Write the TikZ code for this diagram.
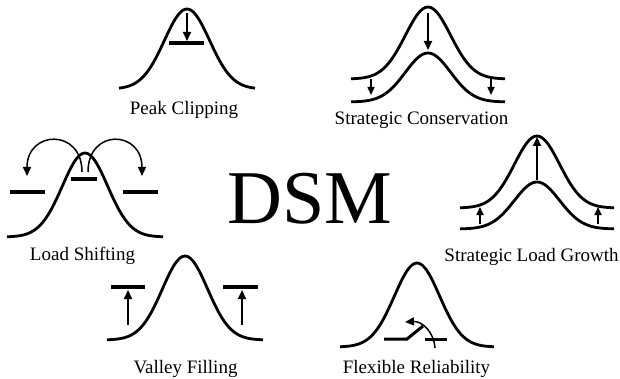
\documentclass[tikz,border=0pt]{standalone}
\usepackage{fontspec}
\setmainfont{Liberation Serif}
\usetikzlibrary{arrows.meta}
\tikzset{
  loadcurve/.style={line width=2.8pt},
  barline/.style={line width=4pt},
  pusharrow/.style={line width=2pt, -{Triangle[length=9pt,width=8pt]}},
  smallpush/.style={line width=1.6pt, -{Triangle[length=8pt,width=7pt]}},
  swaparrow/.style={line width=1.5pt, -{Triangle[length=9pt,width=8pt]}},
  dsmlabel/.style={anchor=base, inner sep=0pt, font=\fontsize{19}{22}\selectfont},
}
% bell shaped load curve: centre x, end y, peak y, half width, spread
\newcommand{\bellcurve}[5]{%
  \draw[loadcurve] plot[domain=-#4:#4, samples=61, smooth]
    ({#1+\x}, {#2+(#3-#2)*exp(-(\x/#5)*(\x/#5))});
}
\begin{document}
\begin{tikzpicture}[x=1pt, y=-1pt]
  \useasboundingbox (0,0) rectangle (620,379);
  % Peak clipping
  \bellcurve{187}{89}{9}{68}{32}
  \draw[barline] (169,43) -- (204,43);
  \draw[pusharrow] (187,13) -- (187,41);
  \node[dsmlabel] (peak) at (184,115) {Peak Clipping};
  % Strategic conservation
  \bellcurve{428}{79}{7}{77}{32}
  \bellcurve{428}{102}{53}{77}{32}
  \draw[pusharrow] (428,13) -- (428,50);
  \foreach \px in {371,491}
    \draw[smallpush] (\px,79) -- (\px,95);
  \node[dsmlabel] (cons) at (421.5,125) {Strategic Conservation};
  % Load shifting
  \bellcurve{85}{237}{153}{78}{32}
  \draw[barline] (10,192) -- (45,192);
  \draw[barline] (71,179) -- (97,179);
  \draw[barline] (123,192) -- (158,192);
  \draw[swaparrow] (82,172) .. controls (82,128) and (27,130) .. (27,176);
  \draw[swaparrow] (88,172) .. controls (88,128) and (142,130) .. (142,176);
  \node[dsmlabel] (shift) at (82.5,260) {Load Shifting};
  % Strategic load growth
  \bellcurve{537}{208}{136}{77}{32}
  \bellcurve{537}{229}{182}{77}{32}
  \draw[pusharrow] (537,180) -- (537,137);
  \foreach \px in {480,598}
    \draw[smallpush] (\px,224) -- (\px,207);
  \node[dsmlabel] (growth) at (531.5,261) {Strategic Load Growth};
  % Valley filling
  \bellcurve{185}{340}{256}{78}{32}
  \draw[barline] (111,287) -- (145,287);
  \draw[barline] (223,287) -- (258,287);
  \foreach \px in {128,242}
    \draw[pusharrow] (\px,325) -- (\px,290);
  \node[dsmlabel] (valley) at (185.5,373) {Valley Filling};
  % Flexible reliability
  \bellcurve{417}{347}{263}{77}{32}
  \draw[line width=3pt] (384,339) -- (407,339) -- (423,326);
  \draw[line width=3pt] (425,339) -- (447,339);
  \draw[swaparrow] (435,348) .. controls (434,332) and (422,321) .. (405,322);
  \node[dsmlabel] (flex) at (416.5,373) {Flexible Reliability};
  % centre
  \node[anchor=base, inner sep=0pt, font=\fontsize{76}{80}\selectfont] (dsm) at (310,223) {DSM};
\end{tikzpicture}
\end{document}
